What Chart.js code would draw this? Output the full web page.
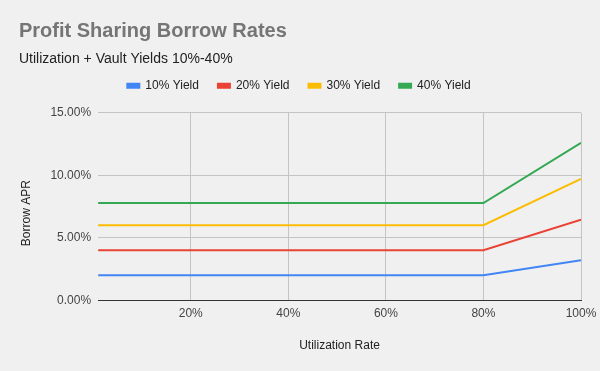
<!DOCTYPE html>
<html>
<head>
<meta charset="utf-8">
<script src="https://cdn.jsdelivr.net/npm/chart.js@4.4.0/dist/chart.umd.min.js"></script>
<style>
  html, body { margin: 0; padding: 0; background: #f0f0f0; }
  #wrap { width: 600px; height: 371px; }
</style>
</head>
<body>
<div id="wrap"><canvas id="c" width="600" height="371"></canvas></div>
<script>
const utilization = [1, 80, 100];
const yield10 = [2.0, 2.0, 3.2];
const yield20 = [4.0, 4.0, 6.45];
const yield30 = [6.0, 6.0, 9.7];
const yield40 = [7.78, 7.78, 12.6];
const seriesNames = ['10% Yield', '20% Yield', '30% Yield', '40% Yield'];
const xTicks = [20, 40, 60, 80, 100];
const yTicks = [0, 5, 10, 15];

const colors = ['#4285F4', '#EA4335', '#FBBC04', '#34A853'];
const allSeries = [yield10, yield20, yield30, yield40];

const FONT = '"Liberation Sans", Arial, sans-serif';

const legendShift = {
  id: 'legendShift',
  beforeInit(chart) {
    const orig = chart.legend.draw;
    chart.legend.draw = function () {
      const ctx = this.ctx;
      ctx.save();
      ctx.translate(-10.5, -11);
      orig.call(this);
      ctx.restore();
    };
  }
};

new Chart(document.getElementById('c'), {
  type: 'line',
  data: {
    datasets: allSeries.map((s, i) => ({
      label: seriesNames[i],
      data: utilization.map((u, j) => ({ x: u, y: s[j] })),
      borderColor: colors[i],
      backgroundColor: colors[i],
      borderWidth: 2,
      pointRadius: 0,
      tension: 0,
      fill: false
    }))
  },
  options: {
    responsive: false,
    animation: false,
    layout: { padding: { left: 19, right: 0, top: 0, bottom: 18 } },
    plugins: {
      title: {
        display: true,
        text: 'Profit Sharing Borrow Rates',
        align: 'start',
        color: '#757575',
        font: { family: FONT, size: 20, weight: 'bold' },
        padding: { top: 19, bottom: 0 }
      },
      subtitle: {
        display: true,
        text: 'Utilization + Vault Yields 10%-40%',
        align: 'start',
        color: '#222222',
        font: { family: FONT, size: 14 },
        padding: { top: 8, bottom: 4 }
      },
      legend: {
        display: true,
        position: 'top',
        labels: {
          boxWidth: 12,
          boxHeight: 4,
          padding: 19,
          color: '#222222',
          font: { family: FONT, size: 12 }
        }
      },
      tooltip: { enabled: false }
    },
    scales: {
      x: {
        type: 'linear',
        min: utilization[0],
        max: 100,
        afterBuildTicks(scale) {
          scale.ticks = xTicks.map(v => ({ value: v }));
        },
        afterFit(scale) {
          scale.paddingRight = 19;
        },
        ticks: {
          callback: v => v + '%',
          color: '#444444',
          font: { family: FONT, size: 12 },
          padding: 6,
          maxRotation: 0
        },
        grid: { color: '#c4c4c4', drawTicks: false },
        border: { display: true, color: '#333333', width: 1 },
        title: {
          display: true,
          text: 'Utilization Rate',
          color: '#222222',
          font: { family: FONT, size: 12 },
          padding: { top: 12, bottom: 0 }
        }
      },
      y: {
        min: 0,
        max: 15,
        afterBuildTicks(scale) {
          scale.ticks = yTicks.map(v => ({ value: v }));
        },
        ticks: {
          callback: v => v.toFixed(2) + '%',
          color: '#444444',
          font: { family: FONT, size: 12 },
          padding: 7
        },
        grid: { color: '#c4c4c4', drawTicks: false },
        border: { display: false },
        title: {
          display: true,
          text: 'Borrow APR    ',
          color: '#222222',
          font: { family: FONT, size: 12 },
          padding: { top: 0, bottom: 10 }
        }
      }
    }
  },
  plugins: [legendShift]
});
</script>
</body>
</html>
